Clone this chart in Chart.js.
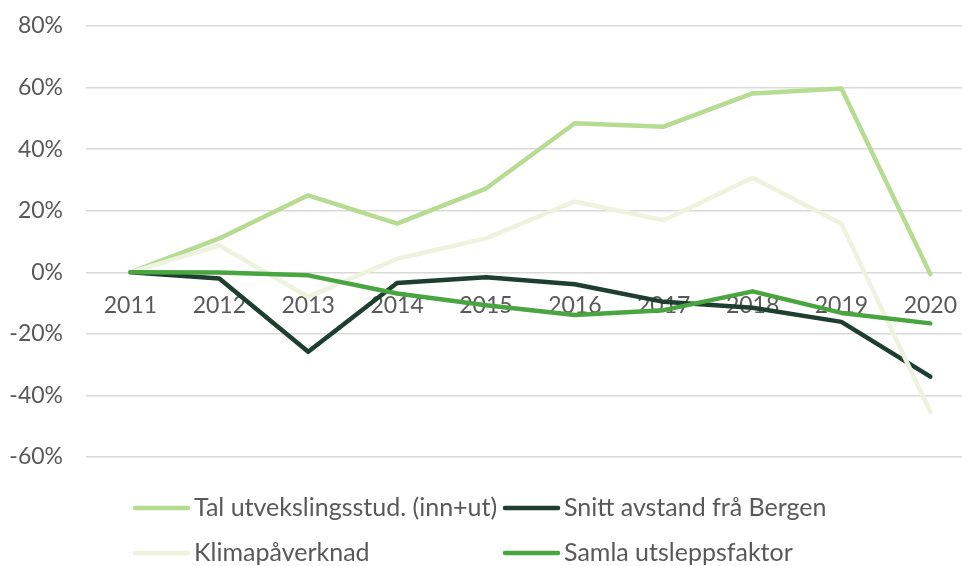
<!DOCTYPE html>
<html>
<head>
<meta charset="utf-8">
<script src="https://cdn.jsdelivr.net/npm/chart.js@4/dist/chart.umd.min.js"></script>
<style>
  html, body { margin:0; padding:0; background:#fff; overflow:hidden; }
  #wrap { width:976px; height:566px; position:relative; }
</style>
</head>
<body>
<div id="wrap"><canvas id="chart"></canvas></div>
<script>
// values (% change from 2011)
const years = ["2011","2012","2013","2014","2015","2016","2017","2018","2019","2020"];
const seriesNames = ["Tal utvekslingsstud. (inn+ut)", "Snitt avstand frå Bergen", "Klimapåverknad", "Samla utsleppsfaktor"];
const utveksling = [0, 11, 25, 15.8, 27.2, 48.4, 47.3, 58.1, 59.7, -0.6];
const avstand    = [0, -2, -25.8, -3.5, -1.6, -3.9, -9.6, -11.5, -16.1, -33.9];
const klima      = [0, 8.7, -8, 4.4, 11, 23, 16.9, 30.7, 15.8, -45.3];
const utslepp    = [0, -0.1, -1, -6.9, -10.7, -13.9, -12.3, -6.2, -13.2, -16.6];
const yTicks = [-60, -40, -20, 0, 20, 40, 60, 80];

const colors = ["#b5dc91", "#1e3e30", "#eef3e0", "#48a540"];
const textColor = "#595959";
const font = "Lato";

const seriesData = [utveksling, avstand, klima, utslepp];

// legend drawn in two columns like the original
const legendPlugin = {
  id: "colLegend",
  afterDraw(chart){
    const ctx = chart.ctx;
    const colX = [133, 503];
    const rowY = [508, 553];
    ctx.save();
    ctx.font = `25px ${font}`;
    ctx.textBaseline = "middle";
    ctx.fillStyle = textColor;
    chart.data.datasets.forEach((ds, i) => {
      const x = colX[i % 2], y = rowY[Math.floor(i / 2)];
      ctx.beginPath();
      ctx.strokeStyle = ds.borderColor;
      ctx.lineWidth = 4.5;
      ctx.lineCap = "round";
      ctx.moveTo(x + 2, y);
      ctx.lineTo(x + 55, y);
      ctx.stroke();
      ctx.fillText(ds.label, x + 61, y);
    });
    ctx.restore();
  }
};

new Chart(document.getElementById("chart"), {
  type: "line",
  data: {
    labels: years,
    datasets: seriesData.map((d, i) => ({
      label: seriesNames[i],
      data: d,
      borderColor: colors[i],
      backgroundColor: colors[i],
      borderWidth: 4.5,
      borderCapStyle: "round",
      borderJoinStyle: "round",
      pointRadius: 0,
      tension: 0,
      order: 4 - i
    }))
  },
  options: {
    responsive: true,
    maintainAspectRatio: false,
    animation: false,
    layout: { padding: { top: 0, bottom: 109, left: 0, right: 0 } },
    plugins: { legend: { display: false }, tooltip: { enabled: false } },
    scales: {
      x: {
        position: { y: 0 },
        offset: true,
        grid: { display: false, drawTicks: false },
        border: { display: false },
        ticks: { color: textColor, font: { family: font, size: 23 }, padding: 19, maxRotation: 0 }
      },
      y: {
        min: yTicks[0],
        max: yTicks[yTicks.length - 1],
        afterBuildTicks: s => { s.ticks = yTicks.map(v => ({ value: v })); },
        afterFit: s => { s.width = 86; s.paddingTop = 26; s.paddingBottom = 0; },
        grid: { color: "#d9d9d9", lineWidth: 1.5, drawTicks: false },
        border: { display: false },
        ticks: { color: textColor, font: { family: font, size: 23 }, padding: 23, callback: v => v + "%" }
      }
    }
  },
  plugins: [legendPlugin]
});
</script>
</body>
</html>
